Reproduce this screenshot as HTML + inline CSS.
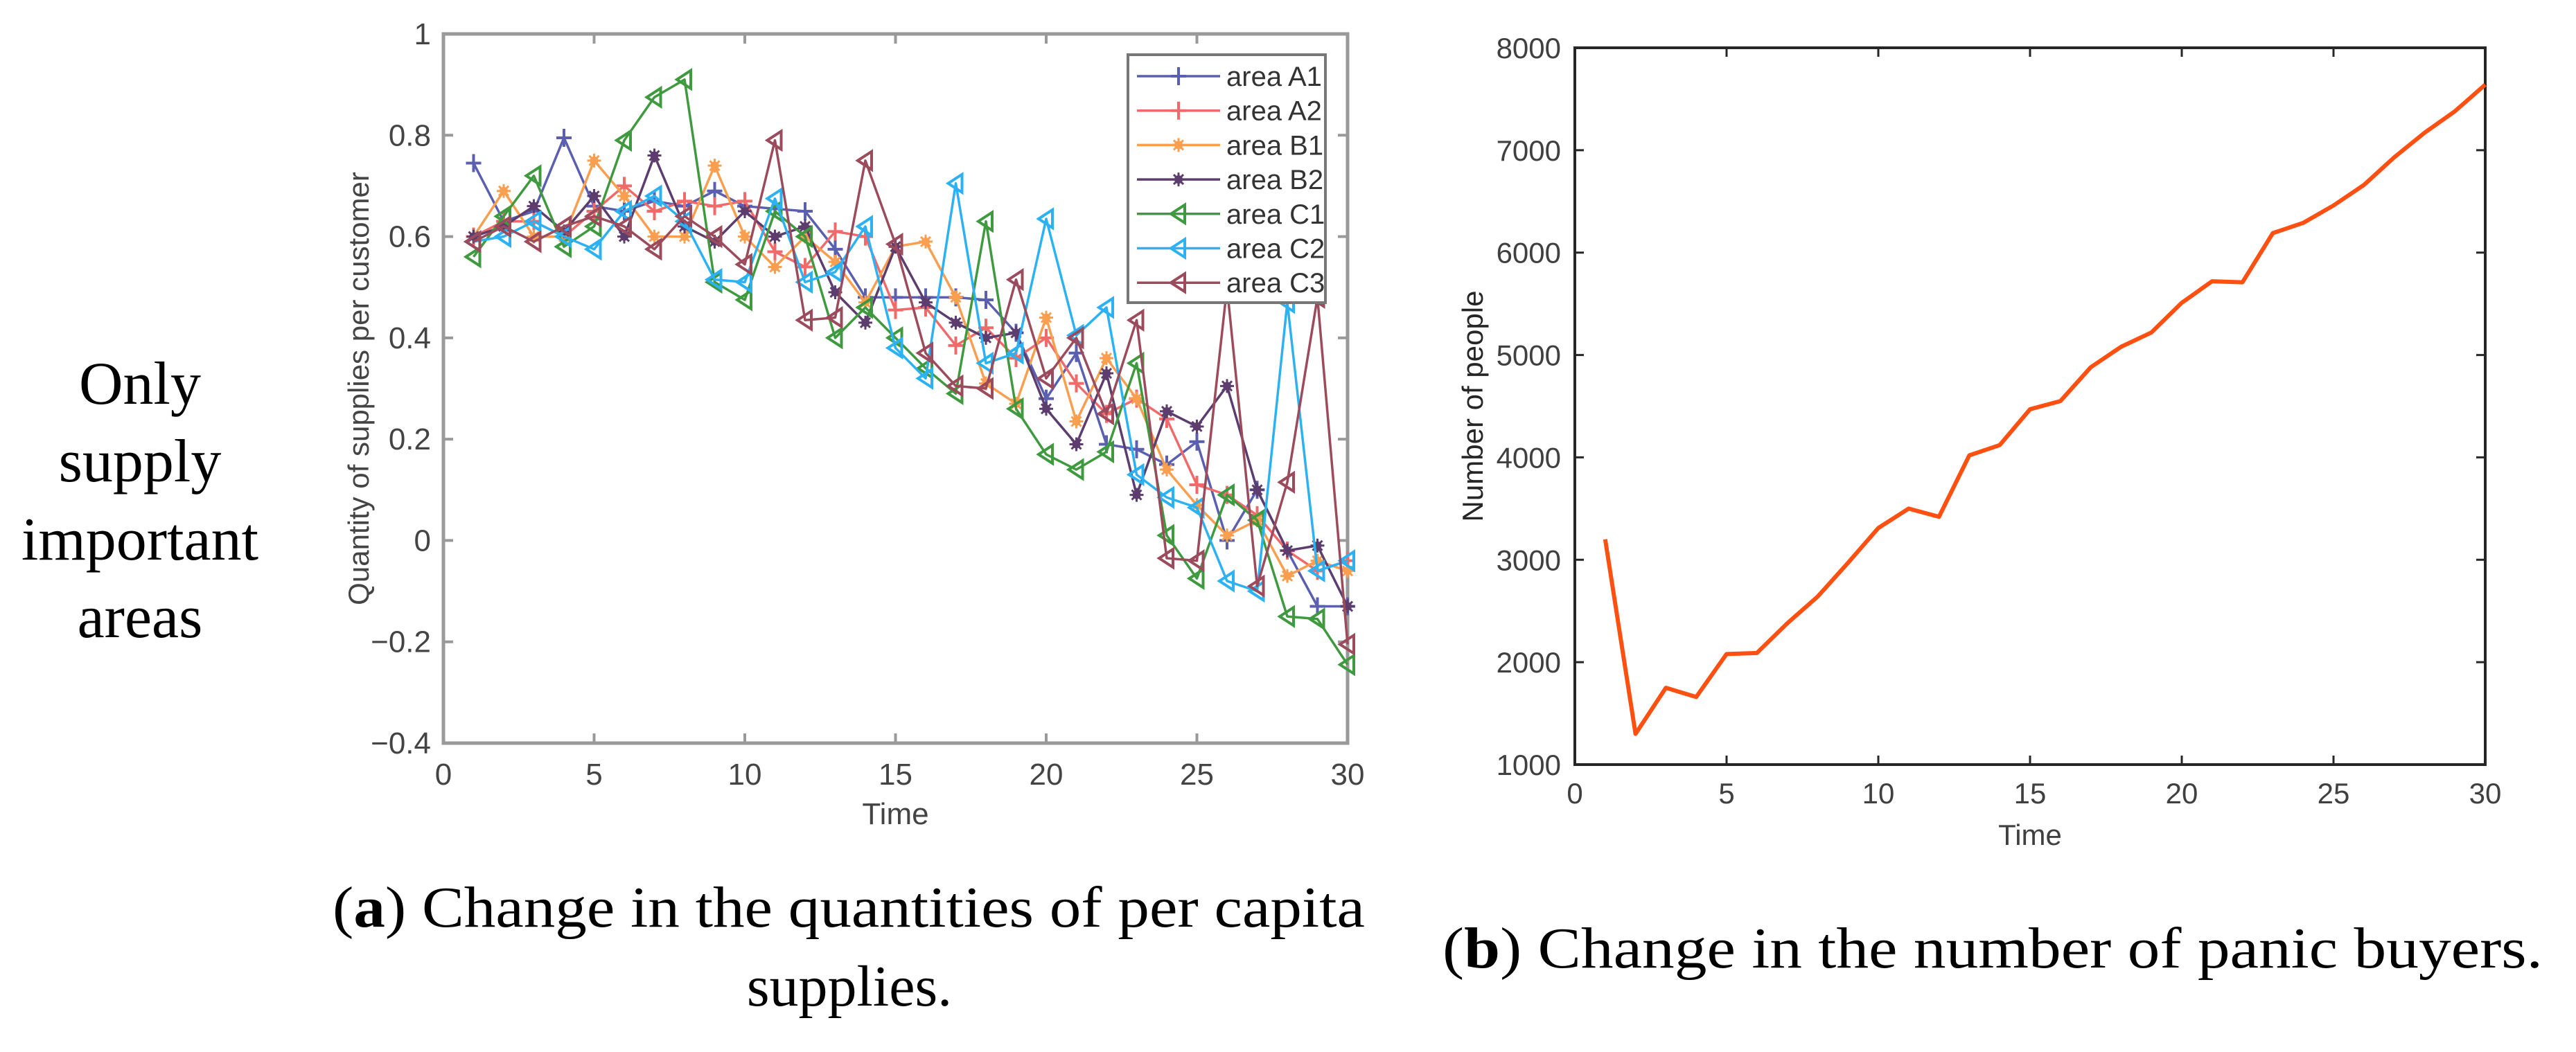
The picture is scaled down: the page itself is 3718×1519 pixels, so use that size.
<!DOCTYPE html>
<html><head><meta charset="utf-8"><style>
html,body{margin:0;padding:0;background:#fff;}
svg{display:block;}
</style></head><body>
<svg id="fig" width="3718" height="1519" viewBox="0 0 3718 1519" xmlns="http://www.w3.org/2000/svg">
<rect width="3718" height="1519" fill="#fff"/>
<g font-family="Liberation Serif, serif" font-size="88" fill="#000" text-anchor="middle">
<text x="202" y="583">Only</text><text x="202" y="695">supply</text><text x="202" y="808">important</text><text x="202" y="920">areas</text>
</g>
<g id="chartA"></g>
<g id="chartB"></g>
<text x="480" y="1338" font-family="Liberation Serif, serif" font-size="84" textLength="1490" lengthAdjust="spacingAndGlyphs">(<tspan font-weight="bold">a</tspan>) Change in the quantities of per capita</text>
<text x="1226" y="1452" text-anchor="middle" font-family="Liberation Serif, serif" font-size="84">supplies.</text>
<text x="2082" y="1397" font-family="Liberation Serif, serif" font-size="84" textLength="1588" lengthAdjust="spacingAndGlyphs">(<tspan font-weight="bold">b</tspan>) Change in the number of panic buyers.</text>
</svg>
<script>
const times = [1,2,3,4,5,6,7,8,9,10,11,12,13,14,15,16,17,18,19,20,21,22,23,24,25,26,27,28,29,30];
const seriesNames = ["area A1","area A2","area B1","area B2","area C1","area C2","area C3"];
const areaA1 = [0.745,0.63,0.65,0.795,0.66,0.65,0.67,0.66,0.69,0.66,0.655,0.65,0.575,0.48,0.48,0.48,0.48,0.475,0.41,0.28,0.37,0.19,0.18,0.15,0.195,0.0,0.1,-0.02,-0.13,-0.13];
const areaA2 = [0.6,0.63,0.63,0.6,0.65,0.70,0.65,0.67,0.66,0.67,0.57,0.54,0.61,0.6,0.455,0.46,0.385,0.42,0.36,0.40,0.31,0.25,0.28,0.24,0.11,0.09,0.05,-0.02,-0.06,-0.04];
const areaB1 = [0.6,0.69,0.6,0.6,0.75,0.68,0.6,0.6,0.74,0.6,0.54,0.6,0.55,0.47,0.58,0.59,0.48,0.31,0.27,0.44,0.235,0.36,0.28,0.14,0.07,0.01,0.04,-0.07,-0.04,-0.06];
const areaB2 = [0.6,0.62,0.66,0.61,0.68,0.6,0.76,0.62,0.59,0.65,0.6,0.62,0.49,0.43,0.58,0.47,0.43,0.4,0.41,0.26,0.19,0.33,0.09,0.255,0.225,0.305,0.10,-0.02,-0.01,-0.13];
const areaC1 = [0.56,0.64,0.72,0.58,0.62,0.79,0.875,0.91,0.51,0.475,0.65,0.60,0.40,0.46,0.40,0.34,0.29,0.63,0.26,0.17,0.14,0.175,0.35,0.01,-0.075,0.09,0.04,-0.15,-0.155,-0.245];
const areaC2 = [0.59,0.60,0.63,0.6,0.575,0.65,0.68,0.63,0.515,0.51,0.675,0.51,0.53,0.62,0.38,0.32,0.705,0.35,0.37,0.635,0.405,0.46,0.13,0.085,0.065,-0.08,-0.10,0.47,-0.06,-0.04];
const areaC3 = [0.59,0.62,0.59,0.62,0.64,0.62,0.575,0.64,0.60,0.545,0.79,0.435,0.44,0.75,0.585,0.37,0.305,0.30,0.515,0.32,0.40,0.25,0.435,-0.035,-0.04,0.50,-0.09,0.115,0.48,-0.205];
const xTicksA = [0,5,10,15,20,25,30];
const yTicksA = [-0.4,-0.2,0,0.2,0.4,0.6,0.8,1];
const yTickLabelsA = ["\u22120.4","\u22120.2","0","0.2","0.4","0.6","0.8","1"];
const panicBuyers = [3200,1300,1750,1660,2080,2090,2380,2640,2970,3310,3500,3420,4020,4120,4470,4550,4880,5080,5220,5510,5720,5710,6190,6290,6460,6660,6930,7170,7380,7640];
const xTicksB = [0,5,10,15,20,25,30];
const yTicksB = [1000,2000,3000,4000,5000,6000,7000,8000];

const NS = "http://www.w3.org/2000/svg";
function mk(tag, attrs, parent){const e=document.createElementNS(NS,tag);for(const k in attrs)e.setAttribute(k,attrs[k]);parent.appendChild(e);return e;}

// ---- Chart A ----
const gA = document.getElementById('chartA');
const A = {l:640,r:1945,t:49,b:1073};
const xA = v => A.l + (v-0)/(30-0)*(A.r-A.l);
const yA = v => A.b - (v-(-0.4))/(1-(-0.4))*(A.b-A.t);
const dataA = [areaA1,areaA2,areaB1,areaB2,areaC1,areaC2,areaC3];
const colors = ["#5a5fb0","#f06a6a","#fa9e50","#5c3d6e","#3f9a3f","#2cb2f2","#9b4b5b"];
const markers = ["plus","plus","star","star","tri","tri","tri"];

function marker(g, type, x, y, c){
  let m;
  if(type==="plus"){
    m = mk('path',{d:`M${x-11},${y}H${x+11}M${x},${y-13}V${y+13}`,stroke:c,'stroke-width':4,fill:'none'},g);
  } else if(type==="star"){
    m = mk('g',{},g);
    mk('path',{d:`M${x-10},${y}H${x+10}M${x},${y-10}V${y+10}M${x-7},${y-7}L${x+7},${y+7}M${x-7},${y+7}L${x+7},${y-7}`,stroke:c,'stroke-width':3,fill:'none'},m);
    mk('circle',{cx:x,cy:y,r:6,fill:c},m);
  } else {
    m = mk('path',{d:`M${x-11},${y}L${x+9},${y-13}L${x+9},${y+13}Z`,stroke:c,'stroke-width':4,fill:'none'},g);
  }
  
  
}

// frame
const frameA = mk('rect',{x:A.l,y:A.t,width:A.r-A.l,height:A.b-A.t,fill:'none',stroke:'#999','stroke-width':5},gA);


xTicksA.forEach(v=>{
  const x=xA(v);
  const t=mk('path',{d:`M${x},${A.b}V${A.b-14}M${x},${A.t}V${A.t+14}`,stroke:'#999','stroke-width':4},gA);
  
  
  const lb=mk('text',{x:x,y:1133,'text-anchor':'middle','font-family':'Liberation Sans, sans-serif','font-size':44,fill:'#444'},gA);
  lb.textContent=v;
  
  
});
yTicksA.forEach((v,i)=>{
  const y=yA(v);
  const t=mk('path',{d:`M${A.l},${y}H${A.l+14}M${A.r},${y}H${A.r-14}`,stroke:'#999','stroke-width':4},gA);
  
  
  const lb=mk('text',{x:622,y:y+15,'text-anchor':'end','font-family':'Liberation Sans, sans-serif','font-size':44,fill:'#444'},gA);
  lb.textContent=yTickLabelsA[i];
  
  
});
const xtA=mk('text',{x:(A.l+A.r)/2,y:1190,'text-anchor':'middle','font-family':'Liberation Sans, sans-serif','font-size':44,fill:'#444'},gA);
xtA.textContent='Time';


const ytA=mk('text',{x:0,y:0,transform:`translate(532,${(A.t+A.b)/2}) rotate(-90)`,'text-anchor':'middle','font-family':'Liberation Sans, sans-serif','font-size':42,fill:'#444'},gA);
ytA.textContent='Quantity of supplies per customer';



dataA.forEach((arr,si)=>{
  const g=mk('g',{},gA);
  
  
  const pts=arr.map((v,i)=>`${xA(times[i])},${yA(v)}`).join(' ');
  const pl=mk('polyline',{points:pts,fill:'none',stroke:colors[si],'stroke-width':3.5,'stroke-linejoin':'round'},g);
  
  
  arr.forEach((v,i)=>marker(g,markers[si],xA(times[i]),yA(v),colors[si]));
});

// legend
const lg=mk('g',{},gA);


mk('rect',{x:1628,y:79,width:285,height:358,fill:'#fff',stroke:'#777','stroke-width':4},lg);
seriesNames.forEach((n,i)=>{
  const y=110+i*49.7;
  const e=mk('g',{},lg);
  
  
  mk('path',{d:`M1641,${y}H1761`,stroke:colors[i],'stroke-width':3.5},e);
  marker(e,markers[i],1701,y,colors[i]);
  const t=mk('text',{x:1770,y:y+14,'font-family':'Liberation Sans, sans-serif','font-size':40,fill:'#333'},e);
  t.textContent=n;
});

// ---- Chart B ----
const gB=document.getElementById('chartB');
const B={l:2273,r:3587,t:69,b:1104};
const xB=v=>B.l+(v-0)/(30-0)*(B.r-B.l);
const yB=v=>B.b-(v-1000)/(8000-1000)*(B.b-B.t);
const frameB=mk('rect',{x:B.l,y:B.t,width:B.r-B.l,height:B.b-B.t,fill:'none',stroke:'#262626','stroke-width':4},gB);


xTicksB.forEach(v=>{
  const x=xB(v);
  const t=mk('path',{d:`M${x},${B.b}V${B.b-13}M${x},${B.t}V${B.t+13}`,stroke:'#262626','stroke-width':3},gB);
  
  
  const lb=mk('text',{x:x,y:1160,'text-anchor':'middle','font-family':'Liberation Sans, sans-serif','font-size':42,fill:'#404040'},gB);
  lb.textContent=v;
  
  
});
yTicksB.forEach(v=>{
  const y=yB(v);
  const t=mk('path',{d:`M${B.l},${y}H${B.l+13}M${B.r},${y}H${B.r-13}`,stroke:'#262626','stroke-width':3},gB);
  
  
  const lb=mk('text',{x:2253,y:y+15,'text-anchor':'end','font-family':'Liberation Sans, sans-serif','font-size':42,fill:'#404040'},gB);
  lb.textContent=v;
  
  
});
const xtB=mk('text',{x:(B.l+B.r)/2,y:1220,'text-anchor':'middle','font-family':'Liberation Sans, sans-serif','font-size':42,fill:'#404040'},gB);
xtB.textContent='Time';


const ytB=mk('text',{x:0,y:0,transform:`translate(2140,${(B.t+B.b)/2}) rotate(-90)`,'text-anchor':'middle','font-family':'Liberation Sans, sans-serif','font-size':42,fill:'#262626'},gB);
ytB.textContent='Number of people';


const lineB=mk('polyline',{points:panicBuyers.map((v,i)=>`${xB(times[i])},${yB(v)}`).join(' '),fill:'none',stroke:'#ff5012','stroke-width':6,'stroke-linejoin':'round'},gB);


</script>
</body></html>
